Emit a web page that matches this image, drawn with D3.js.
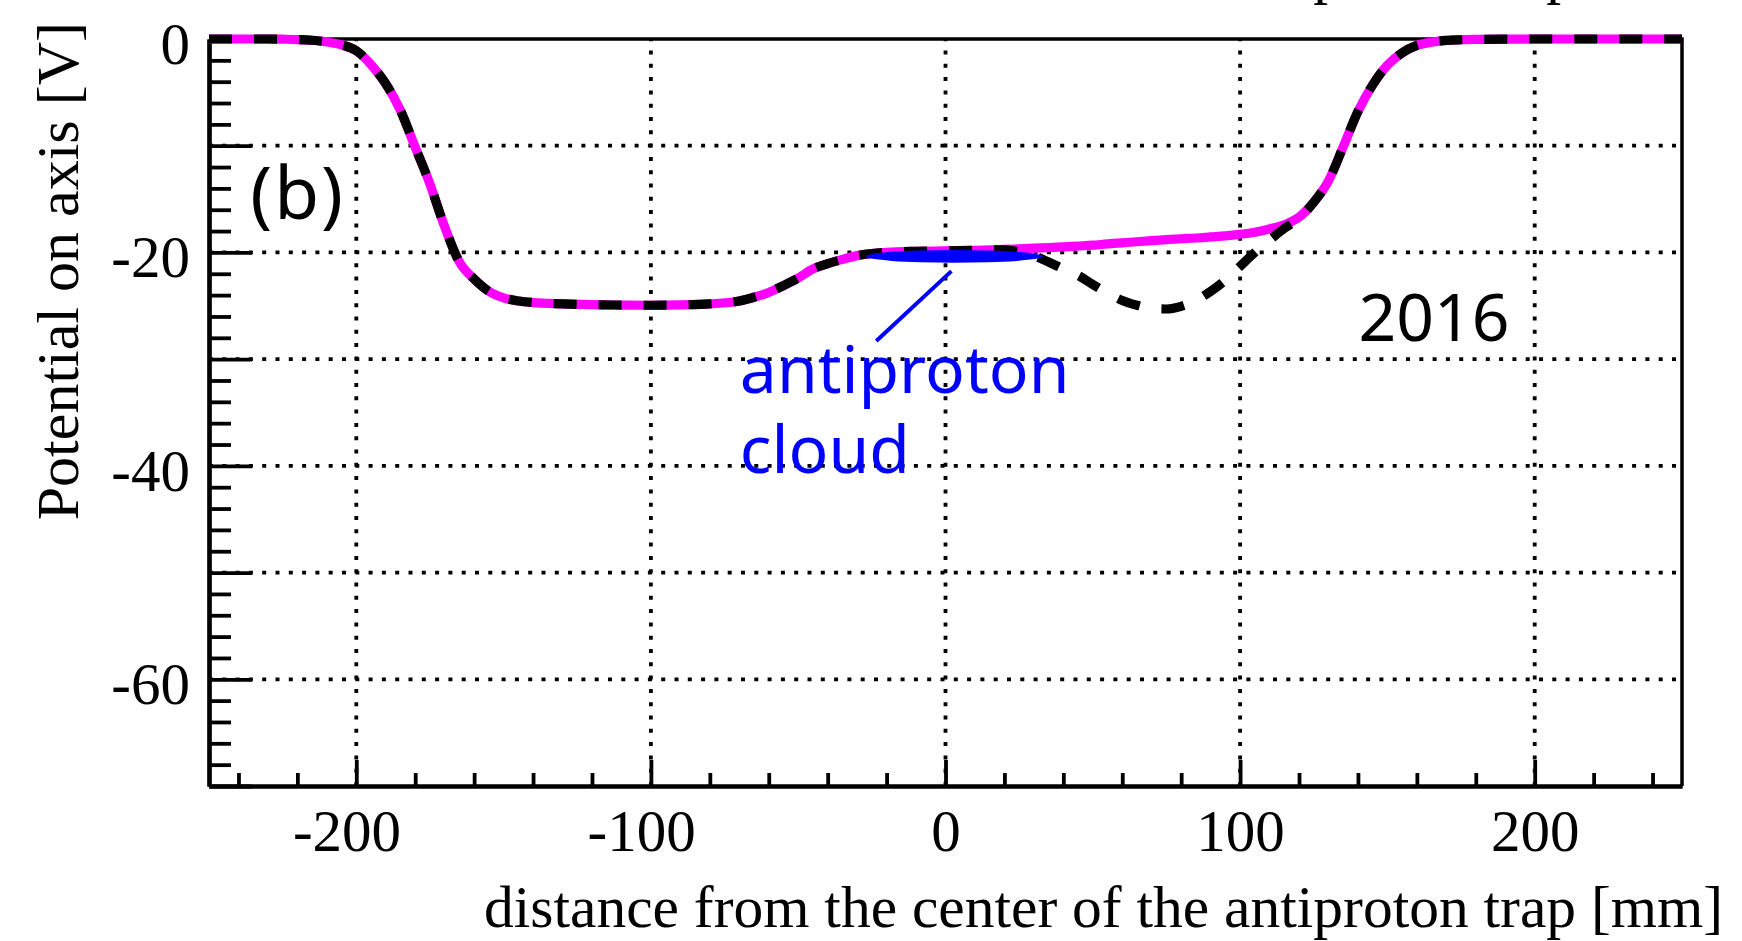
<!DOCTYPE html>
<html>
<head>
<meta charset="utf-8">
<script src="https://cdn.jsdelivr.net/npm/d3@7"></script>
<style>
  html, body { margin: 0; padding: 0; background: #ffffff; }
  svg { display: block; }
</style>
</head>
<body>
<svg id="chart" width="1742" height="941"></svg>
<script>
// Axial position along the trap [mm]
const positionMm = [
  -250, -240, -230, -225, -220, -215, -210, -205, -200, -195, -190, -185, -180, -175, -170,
  -165, -160, -155, -150, -145, -140, -130, -120, -110, -100, -90, -80, -70, -65, -60,
  -55, -50, -45, -40, -35, -30, -25, -20, -10, 0, 10, 20, 25, 30, 35,
  40, 45, 50, 55, 60, 65, 70, 75, 80, 85, 90, 95, 100, 105, 110,
  115, 120, 125, 130, 135, 140, 145, 150, 155, 160, 165, 170, 175, 180, 190,
  200, 210, 220, 230, 240, 250
];

// On-axis potential [V], solid magenta configuration
const potentialSolid = [
  0, 0, 0, -0.02, -0.05, -0.12, -0.27, -0.55, -1.1, -2.4, -4.2, -6.7, -10.15, -13.6, -17.6,
  -20.9, -22.5, -23.65, -24.25, -24.55, -24.7, -24.82, -24.9, -24.93, -24.95, -24.92, -24.82, -24.55, -24.2, -23.75,
  -23.1, -22.4, -21.55, -21.05, -20.65, -20.3, -20.1, -20.0, -19.9, -19.85, -19.8, -19.72, -19.66, -19.6, -19.55,
  -19.48, -19.4, -19.32, -19.2, -19.1, -19.0, -18.9, -18.8, -18.72, -18.65, -18.55, -18.45, -18.3, -18.1, -17.8,
  -17.4, -16.7, -15.3, -13.3, -10.1, -6.8, -4.3, -2.45, -1.3, -0.6, -0.3, -0.13, -0.07, -0.04, -0.01,
  0, 0, 0, 0, 0, 0
];

// On-axis potential [V], dashed black configuration (extra well downstream)
const potentialDashed = [
  0, 0, 0, -0.02, -0.05, -0.12, -0.27, -0.55, -1.1, -2.4, -4.2, -6.7, -10.15, -13.6, -17.6,
  -20.9, -22.5, -23.65, -24.25, -24.55, -24.7, -24.82, -24.9, -24.93, -24.95, -24.92, -24.82, -24.55, -24.2, -23.75,
  -23.1, -22.4, -21.55, -21.05, -20.65, -20.3, -20.1, -20.0, -19.9, -19.85, -19.8, -19.75, -19.95, -20.3, -20.9,
  -21.55, -22.15, -23.0, -23.8, -24.5, -24.95, -25.25, -25.3, -25.05, -24.5, -23.65, -22.6, -21.3, -20.0, -18.85,
  -17.75, -16.8, -15.3, -13.3, -10.1, -6.8, -4.3, -2.45, -1.3, -0.6, -0.3, -0.13, -0.07, -0.04, -0.01,
  0, 0, 0, 0, 0, 0
];

// Axis ranges and ticks
const xDomain = [-250, 250];
const yDomain = [-70, 0];
const xMajorTicks = [-200, -100, 0, 100, 200];
const xMinorTicks = d3.range(-240, 250, 20).filter(v => v % 100 !== 0);
const yMajorTicks = [0, -10, -20, -30, -40, -50, -60, -70];
const yMinorTicks = d3.range(-2, -70, -2).filter(v => v % 10 !== 0);
const yLabelTicks = [0, -20, -40, -60];

// Antiproton cloud: centre [mm], half-length [mm], level [V], half-height [V]
const cloudCenterMm = 3;
const cloudHalfLengthMm = 30;
const cloudLevelV = -20.37;
const cloudHalfHeightV = 0.6;
// Pointer from the cloud to its label: [mm, V] end points
const cloudPointer = [[2, -21.75], [-23.5, -28.3]];

// Text annotations
const xTitle = "distance from the center of the antiproton trap [mm]";
const yTitle = "Potential on axis [V]";
const panelLabel = "(b)";
const yearLabel = "2016";
const cloudLabelLines = ["antiproton", "cloud"];

const svg = d3.select("#chart");
const W = 1742, H = 941;
const plot = { left: 209, right: 1682, top: 39, bottom: 786 };

svg.append("rect").attr("width", W).attr("height", H).attr("fill", "#ffffff");

const x = d3.scaleLinear().domain(xDomain).range([plot.left, plot.right]);
const y = d3.scaleLinear().domain(yDomain).range([plot.bottom, plot.top]);

const serif = "'Liberation Serif', 'Times New Roman', Times, serif";
const sans = "'Noto Sans', 'Open Sans', 'DejaVu Sans', sans-serif";

// Title of the panel above, clipped by the top edge
svg.append("text")
  .attr("x", 484).attr("y", -8)
  .attr("font-family", serif).attr("font-size", 59.5)
  .attr("fill", "#000")
  .text(xTitle);

// Dotted grid
const dot = "4 9.3";
svg.append("g").selectAll("line")
  .data(xMajorTicks).join("line")
  .attr("x1", d => x(d)).attr("x2", d => x(d))
  .attr("y1", plot.bottom).attr("y2", plot.top)
  .attr("stroke", "#000").attr("stroke-width", 3.8)
  .attr("stroke-dasharray", dot);
svg.append("g").selectAll("line")
  .data(yMajorTicks.filter(v => v !== 0 && v !== -70)).join("line")
  .attr("x1", plot.left).attr("x2", plot.right)
  .attr("y1", d => y(d)).attr("y2", d => y(d))
  .attr("stroke", "#000").attr("stroke-width", 3.8)
  .attr("stroke-dasharray", dot);

// Frame (top and right)
svg.append("path")
  .attr("d", `M${plot.left},${plot.top}H${plot.right}V${plot.bottom}`)
  .attr("fill", "none").attr("stroke", "#000").attr("stroke-width", 3.5);

// Axes with inward ticks
function styleAxis(g) {
  g.select(".domain").attr("stroke-width", 4.2);
  g.selectAll(".tick line").attr("stroke-width", 3.8);
  g.selectAll("text").attr("font-family", serif).attr("font-size", 59).attr("fill", "#000");
}

const yAxisMinor = d3.axisLeft(y).tickValues(yMinorTicks).tickSize(-22).tickSizeOuter(0).tickFormat("");
svg.append("g").attr("transform", `translate(${plot.left},0)`).call(yAxisMinor).call(styleAxis);

const yAxisMajor = d3.axisLeft(y).tickValues(yMajorTicks).tickSize(-43).tickSizeOuter(0)
  .tickPadding(19)
  .tickFormat(d => yLabelTicks.includes(d) ? String(d) : "");
svg.append("g").attr("transform", `translate(${plot.left},0)`).call(yAxisMajor).call(styleAxis)
  .selectAll("text").attr("dy", "0.41em");

const xAxisMinor = d3.axisBottom(x).tickValues(xMinorTicks).tickSize(-13).tickSizeOuter(0).tickFormat("");
svg.append("g").attr("transform", `translate(0,${plot.bottom})`).call(xAxisMinor).call(styleAxis);

const xAxisMajor = d3.axisBottom(x).tickValues(xMajorTicks).tickSize(-26).tickSizeOuter(0)
  .tickFormat(d => String(d));
const xg = svg.append("g").attr("transform", `translate(0,${plot.bottom})`).call(xAxisMajor).call(styleAxis);
// digits centred on the tick, minus sign hanging to the left
xg.selectAll("text")
  .attr("y", 65).attr("dy", null)
  .attr("dx", d => d < 0 ? "-0.167em" : null);

// Axis titles
svg.append("text")
  .attr("x", 484).attr("y", 927)
  .attr("font-family", serif).attr("font-size", 59.5).attr("fill", "#000")
  .text(xTitle);
svg.append("text")
  .attr("transform", "translate(78,22) rotate(-90)")
  .attr("text-anchor", "end")
  .attr("font-family", serif).attr("font-size", 60).attr("fill", "#000")
  .text(yTitle);

// Potential curves
const line = d3.line().curve(d3.curveMonotoneX);
const solidPts = positionMm.map((p, i) => [x(p), y(potentialSolid[i])]);
const dashedPts = positionMm.map((p, i) => [x(p), y(potentialDashed[i])]);

svg.append("path")
  .attr("d", line(solidPts))
  .attr("fill", "none").attr("stroke", "#ff00ff").attr("stroke-width", 9.2);
svg.append("path")
  .attr("d", line(dashedPts))
  .attr("fill", "none").attr("stroke", "#000000").attr("stroke-width", 9.2)
  .attr("stroke-dasharray", "23 22");

// Antiproton cloud and its pointer
svg.append("ellipse")
  .attr("cx", x(cloudCenterMm))
  .attr("cy", y(cloudLevelV))
  .attr("rx", x(cloudCenterMm + cloudHalfLengthMm) - x(cloudCenterMm))
  .attr("ry", y(cloudLevelV - cloudHalfHeightV) - y(cloudLevelV))
  .attr("fill", "#0000ff");
svg.append("line")
  .attr("x1", x(cloudPointer[0][0])).attr("y1", y(cloudPointer[0][1]))
  .attr("x2", x(cloudPointer[1][0])).attr("y2", y(cloudPointer[1][1]))
  .attr("stroke", "#0000ff").attr("stroke-width", 4);

// Annotations
svg.append("text")
  .attr("font-family", sans).attr("font-size", 66).attr("fill", "#0000ff")
  .selectAll("tspan").data(cloudLabelLines).join("tspan")
  .attr("x", x(-69.8))
  .attr("y", (d, i) => y(-33.2) + i * 80)
  .text(d => d);

svg.append("text")
  .attr("x", x(140.2)).attr("y", y(-28.3))
  .attr("font-family", sans).attr("font-size", 66).attr("fill", "#000")
  .text(yearLabel);

svg.append("text")
  .attr("x", x(-236)).attr("y", y(-16.9))
  .attr("font-family", sans).attr("font-size", 73).attr("letter-spacing", 2)
  .attr("fill", "#000")
  .text(panelLabel);
</script>
</body>
</html>
